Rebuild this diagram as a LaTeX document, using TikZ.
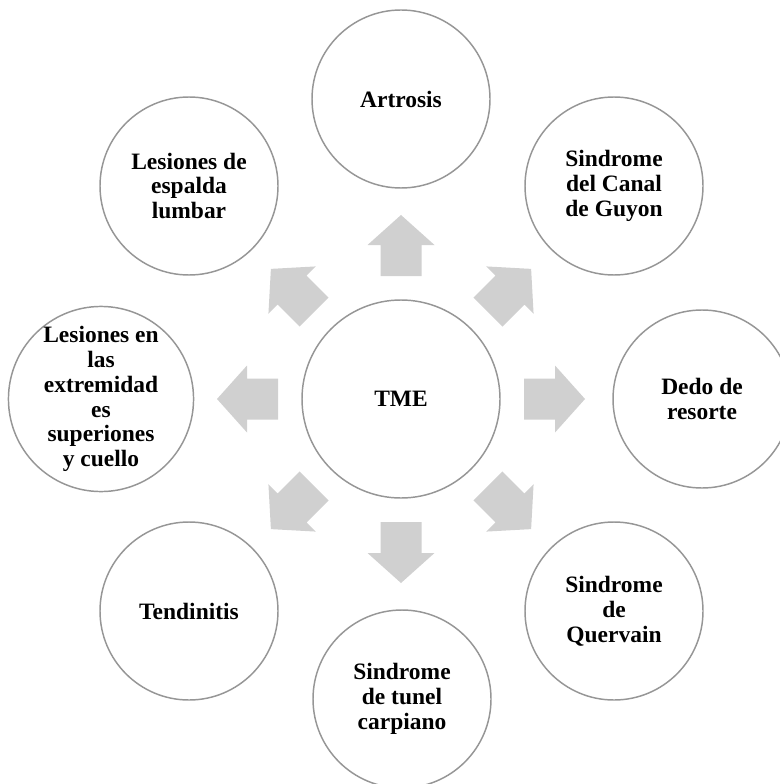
\documentclass[tikz,border=0pt]{standalone}
\usepackage{fontspec}
\setmainfont{Liberation Serif}

\tikzset{every picture/.style={line width=0.75pt}}
\tikzset{
  bubble/.style={circle, draw={rgb, 255:red, 150; green, 150; blue, 150}, line width=1.1pt, fill=white,
    minimum size=133.5pt, inner sep=0pt, align=center,
    font=\bfseries\fontsize{17.6}{18.6}\selectfont},
  hub/.style={bubble, minimum size=148.5pt},
  blockarrow/.style={fill={rgb, 255:red, 208; green, 208; blue, 208}, draw=none}
}

\begin{document}
\begin{tikzpicture}[x=0.75pt,y=0.75pt,yscale=-1,xscale=1]
        \useasboundingbox (0,0) rectangle (780,784);
        % Center
        \node [hub] (tme) at (401,399) {TME};
        % Outer circles
        \node [bubble] (artrosis) at (401,99) {Artrosis};
        \node [bubble] (guyon) at (614,186) {Sindrome\\del Canal\\de Guyon};
        \node [bubble] (dedo) at (702,399) {Dedo de\\resorte};
        \node [bubble] (quervain) at (614,611) {Sindrome\\de\\Quervain};
        \node [bubble] (tunel) at (402,699) {Sindrome\\de tunel\\carpiano};
        \node [bubble] (tendinitis) at (189,611) {Tendinitis};
        \node [bubble] (extremidades) at (101,399) {Lesiones en\\las\\extremidad\\es\\superiones\\y cuello};
        \node [bubble] (espalda) at (189,186) {Lesiones de\\espalda\\lumbar};
        % Block arrows
        \foreach \a in {0,45,...,315}
          \fill [blockarrow, shift={(tme.center)}, rotate=\a]
            (123,-20.5) -- (154,-20.5) -- (154,-33.5) -- (184,0) -- (154,33.5) -- (154,20.5) -- (123,20.5) -- cycle ;
\end{tikzpicture}
\end{document}
